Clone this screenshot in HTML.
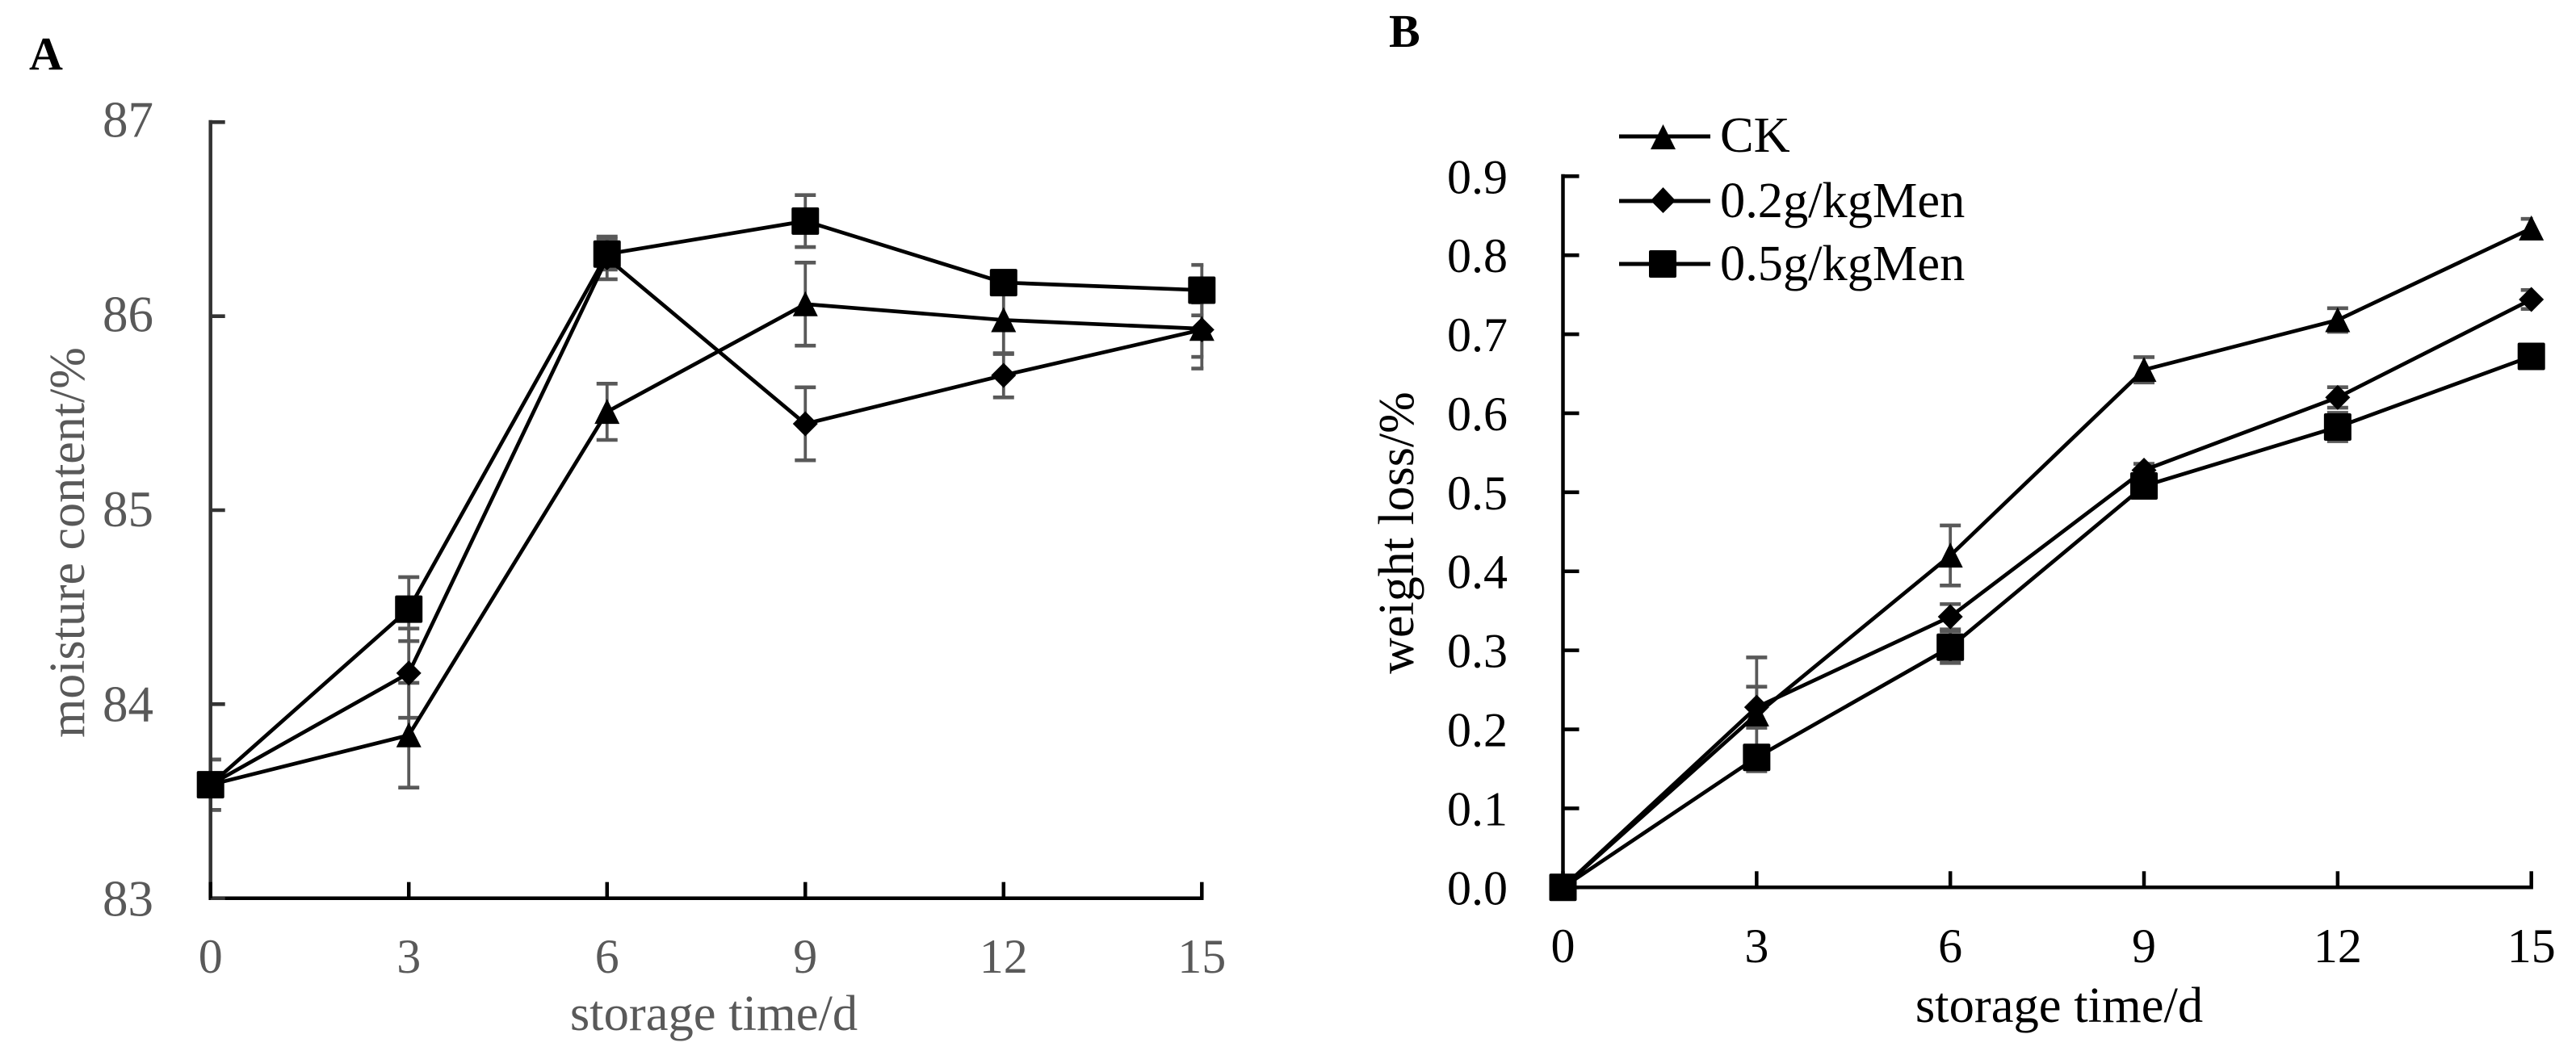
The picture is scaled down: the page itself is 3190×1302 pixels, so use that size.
<!DOCTYPE html>
<html lang="en">
<head>
<meta charset="utf-8">
<title>Moisture content and weight loss during storage</title>
<style>
html,body{margin:0;padding:0;background:#fff;width:3190px;height:1302px;overflow:hidden}
svg{display:block}
text{font-family:"Liberation Serif","Times New Roman",serif}
</style>
</head>
<body>
<svg id="figure" xmlns="http://www.w3.org/2000/svg" width="3190" height="1302" viewBox="0 0 3190 1302">
  <rect width="3190" height="1302" fill="#fff"/>

  <g id="panel-a"></g>
  <g id="panel-b"></g>

  <text x="36" y="86" font-size="58" font-weight="700" fill="#000">A</text>
  <text x="1720" y="58" font-size="58" font-weight="700" fill="#000">B</text>

  <text x="884" y="1276" font-size="62.6" text-anchor="middle" fill="#595959">storage time/d</text>
  <text transform="translate(104 672) rotate(-90)" font-size="62" text-anchor="middle" fill="#595959">moisture content/%</text>

  <text x="2550" y="1266" font-size="62.6" text-anchor="middle" fill="#000">storage time/d</text>
  <text transform="translate(1750 660) rotate(-90)" font-size="62" text-anchor="middle" fill="#000">weight loss/%</text>

  <g id="legend">
    <g>
      <line x1="2005" x2="2118" y1="169" y2="169" stroke="#000" stroke-width="5"/>
      <polygon points="2059.5,154 2075,185 2044,185" fill="#000"/>
      <text x="2130" y="188" font-size="62.4" fill="#000">CK</text>
    </g>
    <g>
      <line x1="2005" x2="2118" y1="249" y2="249" stroke="#000" stroke-width="5"/>
      <polygon points="2059.5,232 2075,248.5 2059.5,264 2044,248.5" fill="#000"/>
      <text x="2130" y="269" font-size="62.4" fill="#000">0.2g/kgMen</text>
    </g>
    <g>
      <line x1="2005" x2="2118" y1="327" y2="327" stroke="#000" stroke-width="5"/>
      <rect x="2042" y="310" width="34" height="34" rx="2" fill="#000"/>
      <text x="2130" y="347" font-size="62.4" fill="#000">0.5g/kgMen</text>
    </g>
  </g>
</svg>

<script>
// Shared category axis
const storageDays = [0, 3, 6, 9, 12, 15];

// Panel A: moisture content (%)
const moistureTicks = [83, 84, 85, 86, 87];
const moistureCK = [83.585, 83.84, 85.507, 86.062, 85.98, 85.935];
const moistureCKError = [0.13, 0.27, 0.145, 0.214, 0.175, 0.205];
const moisture02 = [83.585, 84.16, 86.3, 85.445, 85.695, 85.93];
const moisture02Error = [0.13, 0.23, 0.11, 0.188, 0.114, 0.14];
const moisture05 = [83.585, 84.49, 86.32, 86.49, 86.173, 86.134];
const moisture05Error = [0.13, 0.165, 0.08, 0.134, 0.06, 0.13];

// Panel B: weight loss (%)
const lossTicks = [0.0, 0.1, 0.2, 0.3, 0.4, 0.5, 0.6, 0.7, 0.8, 0.9];
const lossCK = [0, 0.219, 0.42, 0.655, 0.718, 0.834];
const lossCKError = [0, 0.072, 0.038, 0.016, 0.015, 0.012];
const loss02 = [0, 0.228, 0.3425, 0.528, 0.62, 0.744];
const loss02Error = [0, 0.026, 0.016, 0.008, 0.013, 0.012];
const loss05 = [0, 0.1645, 0.304, 0.508, 0.5826, 0.672];
const loss05Error = [0, 0.006, 0.02, 0.01, 0.018, 0.008];

// Axis functions
const dayMax = 15;
function xA(day) { return 260.7 + (day / dayMax) * 1227.6; }
function yA(value) { return 1112.7 - (value - 83) * 240.35; }
function xB(day) { return 1935.5 + (day / dayMax) * 1199.2; }
function yB(value) { return 1099.3 - value * 978.9; }

const NS = 'http://www.w3.org/2000/svg';
const CAP_HALF = 13;

function make(parent, tag, attrs, name) {
  const node = document.createElementNS(NS, tag);
  for (const key in attrs) node.setAttribute(key, attrs[key]);
  
  
  parent.appendChild(node);
  return node;
}

function drawMarker(parent, kind, x, y, name) {
  if (kind === 'square') {
    make(parent, 'rect', { x: x - 17, y: y - 17, width: 34, height: 34, rx: 2, fill: '#000' }, name);
  } else if (kind === 'diamond') {
    const pts = [[x, y - 15.5], [x + 15.5, y], [x, y + 15.5], [x - 15.5, y]];
    make(parent, 'polygon', { points: pts.join(' '), fill: '#000' }, name);
  } else {
    const pts = [[x, y - 16], [x + 15.5, y + 15], [x - 15.5, y + 15]];
    make(parent, 'polygon', { points: pts.join(' '), fill: '#000' }, name);
  }
}

function drawSeries(parent, xFn, yFn, values, errors, kind, prefix, xMin, xMax) {
  const errGroup = make(parent, 'g', {}, prefix + '-error-bars');
  storageDays.forEach(function (day, i) {
    const x = xFn(day);
    const top = yFn(values[i] + errors[i]);
    const bottom = yFn(values[i] - errors[i]);
    const left = Math.max(x - CAP_HALF, xMin);
    const right = Math.min(x + CAP_HALF, xMax);
    make(errGroup, 'line', { x1: x, x2: x, y1: top, y2: bottom, stroke: '#595959', 'stroke-width': 3.8 }, prefix + '-error-stem-day-' + day);
    make(errGroup, 'line', { x1: left, x2: right, y1: top, y2: top, stroke: '#595959', 'stroke-width': 4.6 }, prefix + '-error-cap-top-day-' + day);
    make(errGroup, 'line', { x1: left, x2: right, y1: bottom, y2: bottom, stroke: '#595959', 'stroke-width': 4.6 }, prefix + '-error-cap-bottom-day-' + day);
  });
}

function drawLineAndMarkers(parent, xFn, yFn, values, kind, prefix) {
  const pts = storageDays.map(function (day, i) { return xFn(day) + ',' + yFn(values[i]); }).join(' ');
  make(parent, 'polyline', { points: pts, fill: 'none', stroke: '#000', 'stroke-width': 4.7, 'stroke-linejoin': 'round' }, prefix + '-line');
  storageDays.forEach(function (day, i) {
    drawMarker(parent, kind, xFn(day), yFn(values[i]), prefix + '-point-day-' + day);
  });
}

function drawAxes(parent, xFn, yFn, yTicks, decimals, opts) {
  const x0 = xFn(storageDays[0]);
  const xEnd = xFn(storageDays[storageDays.length - 1]);
  const yBase = yFn(yTicks[0]);
  const yTop = yFn(yTicks[yTicks.length - 1]);
  make(parent, 'line', { x1: x0, x2: x0, y1: yTop - 2.5, y2: yBase + 2.2, stroke: opts.yAxisColor, 'stroke-width': 4.5 }, opts.prefix + '-y-axis');
  make(parent, 'line', { x1: x0 - 2.2, x2: xEnd + 2.2, y1: yBase, y2: yBase, stroke: '#000', 'stroke-width': 4.5 }, opts.prefix + '-x-axis');
  yTicks.forEach(function (tick, i) {
    const y = yFn(tick);
    make(parent, 'line', { x1: x0, x2: x0 + opts.yTickLen, y1: y, y2: y, stroke: opts.yAxisColor, 'stroke-width': 4.6 }, opts.prefix + '-y-tick-' + tick);
    const label = make(parent, 'text', {
      x: opts.yLabelX,
      y: y + opts.yLabelOffset + i * opts.yLabelDrift,
      'font-size': opts.yFont,
      'text-anchor': 'end',
      fill: opts.textColor
    }, opts.prefix + '-y-tick-label-' + tick);
    label.textContent = tick.toFixed(decimals);
  });
  storageDays.forEach(function (day) {
    const x = xFn(day);
    make(parent, 'line', { x1: x, x2: x, y1: yBase, y2: yBase - 20, stroke: '#000', 'stroke-width': 4.5 }, opts.prefix + '-x-tick-' + day);
    const label = make(parent, 'text', {
      x: x,
      y: opts.xLabelY,
      'font-size': 60,
      'text-anchor': 'middle',
      fill: opts.textColor
    }, opts.prefix + '-x-tick-label-' + day);
    label.textContent = String(day);
  });
}

const panelA = document.getElementById('panel-a');
const panelB = document.getElementById('panel-b');

// Panel A
drawSeries(panelA, xA, yA, moistureCK, moistureCKError, 'triangle', 'a-ck', xA(0) - 2, xA(dayMax) + 2);
drawSeries(panelA, xA, yA, moisture02, moisture02Error, 'diamond', 'a-0-2g', xA(0) - 2, xA(dayMax) + 2);
drawSeries(panelA, xA, yA, moisture05, moisture05Error, 'square', 'a-0-5g', xA(0) - 2, xA(dayMax) + 2);
drawAxes(panelA, xA, yA, moistureTicks, 0, {
  prefix: 'a', yAxisColor: '#333', textColor: '#595959', yTickLen: 18,
  yLabelX: 190, yLabelOffset: 22, yLabelDrift: -1, yFont: 63, xLabelY: 1205
});
drawLineAndMarkers(panelA, xA, yA, moistureCK, 'triangle', 'a-ck');
drawLineAndMarkers(panelA, xA, yA, moisture02, 'diamond', 'a-0-2g');
drawLineAndMarkers(panelA, xA, yA, moisture05, 'square', 'a-0-5g');

// Panel B
drawSeries(panelB, xB, yB, lossCK, lossCKError, 'triangle', 'b-ck', xB(0) - 2, xB(dayMax) + 2);
drawSeries(panelB, xB, yB, loss02, loss02Error, 'diamond', 'b-0-2g', xB(0) - 2, xB(dayMax) + 2);
drawSeries(panelB, xB, yB, loss05, loss05Error, 'square', 'b-0-5g', xB(0) - 2, xB(dayMax) + 2);
drawAxes(panelB, xB, yB, lossTicks, 1, {
  prefix: 'b', yAxisColor: '#000', textColor: '#000', yTickLen: 20,
  yLabelX: 1867, yLabelOffset: 21, yLabelDrift: 0, yFont: 60, xLabelY: 1192
});
drawLineAndMarkers(panelB, xB, yB, lossCK, 'triangle', 'b-ck');
drawLineAndMarkers(panelB, xB, yB, loss02, 'diamond', 'b-0-2g');
drawLineAndMarkers(panelB, xB, yB, loss05, 'square', 'b-0-5g');
</script>
</body>
</html>
